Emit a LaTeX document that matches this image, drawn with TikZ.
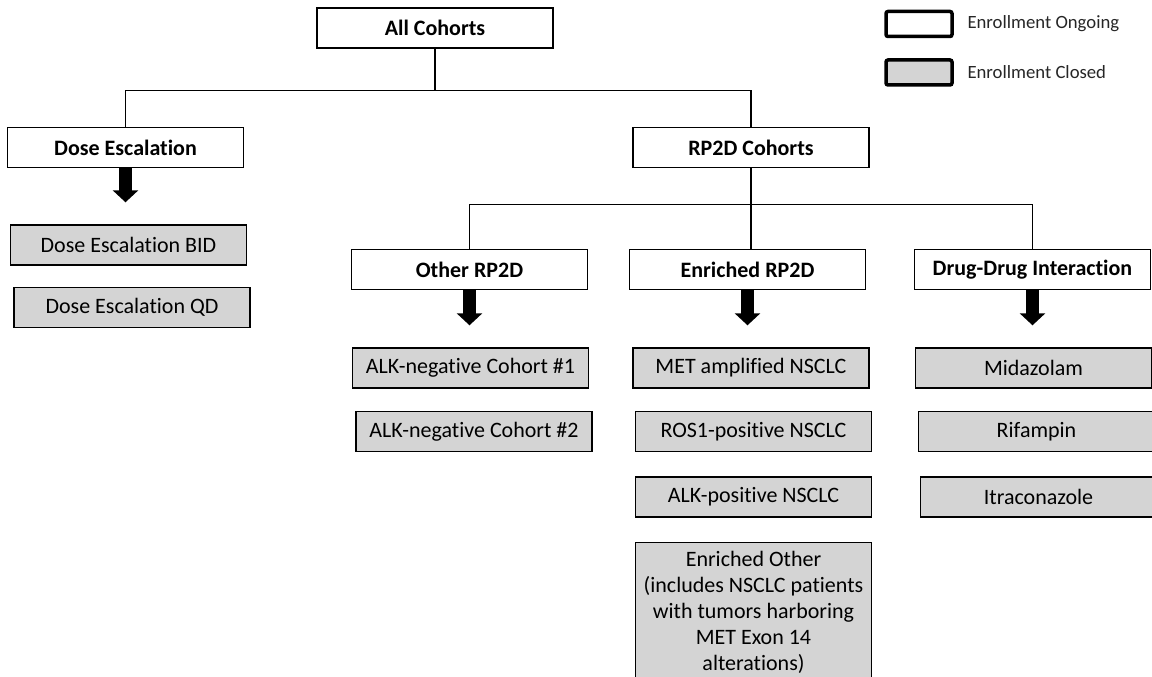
\documentclass[tikz,border=0pt]{standalone}
\usepackage{fontspec}
\setmainfont{Carlito}[Ligatures=NoCommon]
\usepackage{tikz}
\usetikzlibrary{arrows.meta,positioning,calc}

\begin{document}
\begin{tikzpicture}[x=1pt, y=1pt,
  box/.style={draw, line width=1.4pt, minimum width=236pt, minimum height=40pt, inner sep=0pt, align=center, font=\fontsize{22}{26}\selectfont},
  head/.style={box, font=\fontsize{22}{26}\selectfont\bfseries},
  shut/.style={box, fill=black!17},
  link/.style={line width=1.3pt},
  bigarr/.style={line width=13pt, -{Triangle[width=25pt, length=12pt]}, shorten >=22pt},
  key/.style={draw, line width=3.5pt, rounded corners=2pt, minimum width=66pt, minimum height=25pt, inner sep=0pt},
  keytext/.style={anchor=west, text=black!85, font=\fontsize{18.7}{22}\selectfont}]
\useasboundingbox (0,0) rectangle (1152,-677);

% legend
\node[key] (kopen) at (919,-24) {};
\node[key, fill=black!17] (kshut) at (919,-72.5) {};
\node[keytext] (topen) at (964,-24) {Enrollment Ongoing};
\node[keytext] (tshut) at (964,-72.5) {Enrollment Closed};

% headings
\node[head] (all) at (435,-28) {All Cohorts};
\node[head] (dose) at (125.5,-147.5) {Dose Escalation};
\node[head] (rp2d) at (751,-147.5) {RP2D Cohorts};
\node[head] (other) at (469.5,-269.5) {Other RP2D};
\node[head] (enr) at (747.5,-269.5) {Enriched RP2D};
\node[head] (ddi) at (1032.5,-269.5) {Drug-Drug Interaction};

% closed cohorts
\node[shut] (bid) at (128.5,-245) {Dose Escalation BID};
\node[shut, below=21pt of bid, xshift=3.5pt] (qd) {Dose Escalation QD};

\node[shut] (alk1) at (470.5,-368) {ALK-negative Cohort \#1};
\node[shut, below=22pt of alk1, xshift=3.5pt] (alk2) {ALK-negative Cohort \#2};

\node[shut] (met) at (751,-368) {MET amplified NSCLC};
\node[shut, below=22pt of met, xshift=2.5pt] (ros) {ROS1-positive NSCLC};
\node[shut, below=24pt of ros] (alkp) {ALK-positive NSCLC};
\node[shut, below=24pt of alkp, minimum height=140pt] (enoth) {Enriched Other\\(includes NSCLC patients\\with tumors harboring\\MET Exon 14\\alterations)};

\node[shut] (mid) at (1033.5,-368) {Midazolam};
\node[shut, below=22pt of mid, xshift=3pt] (rif) {Rifampin};
\node[shut, below=24pt of rif, xshift=2pt] (itra) {Itraconazole};

% tree
\draw[link] (all.south) -- ++(0,-42) coordinate (j1) -| (dose.north);
\draw[link] (j1) -| (rp2d.north);
\draw[link] (rp2d.south) -- ++(0,-36) coordinate (j2) -| (other.north);
\draw[link] (j2) -| (ddi.north);
\draw[link] (j2) -- (j2 |- enr.north);

% block arrows
\draw[bigarr] (dose.south) -- (dose.south |- bid.north);
\draw[bigarr] (other.south) -- (other.south |- alk1.north);
\draw[bigarr] (enr.south) -- (enr.south |- met.north);
\draw[bigarr] (ddi.south) -- (ddi.south |- mid.north);
\end{tikzpicture}
\end{document}
